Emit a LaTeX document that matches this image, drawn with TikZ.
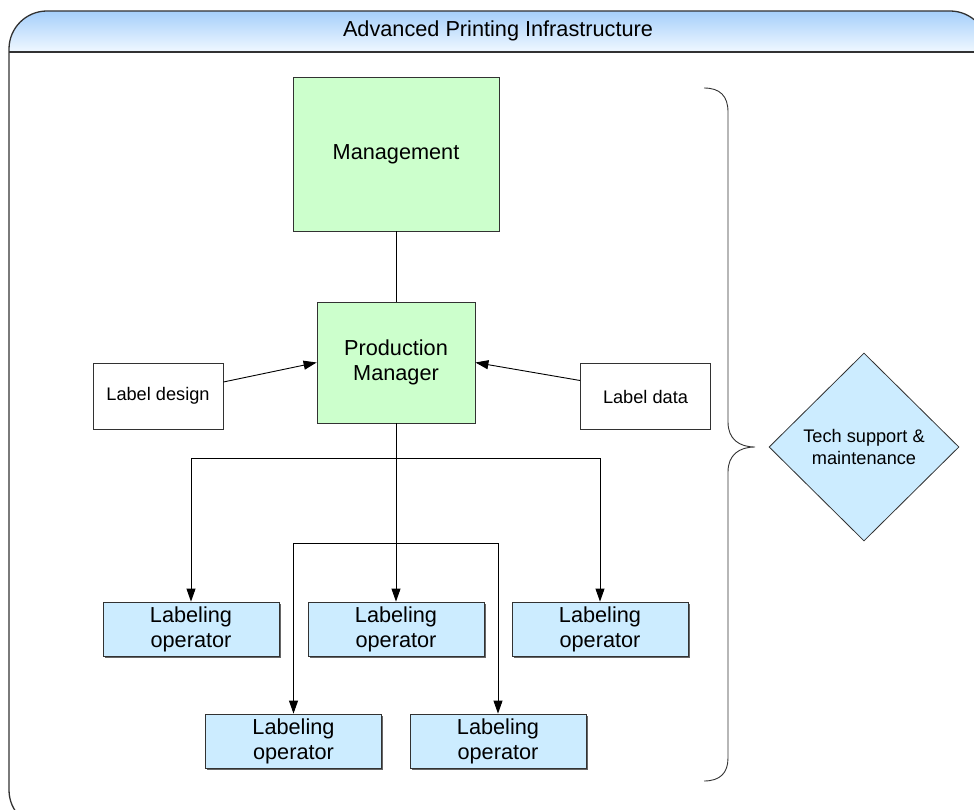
\documentclass[tikz,border=0pt]{standalone}
\usepackage{fontspec}
\setmainfont{Liberation Sans}
\usetikzlibrary{arrows.meta,shapes.geometric,shadows}

\definecolor{mgmtgreen}{RGB}{204,255,204}
\definecolor{opblue}{RGB}{204,236,255}
\definecolor{headtop}{RGB}{145,196,250}
\definecolor{headbot}{RGB}{240,248,255}
\definecolor{edge}{RGB}{50,50,50}

\newcommand{\bigtext}{\fontsize{21.7}{25}\selectfont}
\newcommand{\smalltext}{\fontsize{18.2}{22}\selectfont}

\tikzset{
  box/.style={draw=edge, line width=0.8pt, inner sep=0pt, align=center},
  mgmtbox/.style={box, fill=mgmtgreen, font=\bigtext},
  inputbox/.style={box, fill=white, font=\smalltext,
    minimum width=130pt, minimum height=66pt},
  opbox/.style={box, fill=opblue, font=\bigtext,
    minimum width=176pt, minimum height=54pt,
    drop shadow={shadow xshift=1.6pt, shadow yshift=-1.6pt,
                 fill=black!60, opacity=1}},
  supportbox/.style={diamond, draw=edge, line width=0.8pt, fill=opblue,
    font=\smalltext, align=center, inner sep=0pt,
    minimum width=190pt, minimum height=188pt},
  arr/.style={draw=black, line width=0.9pt,
    -{Triangle[length=13pt,width=9pt]}},
  link/.style={draw=black, line width=0.9pt},
}

\begin{document}
\begin{tikzpicture}[x=1pt, y=-1pt]
  \useasboundingbox (0,0) rectangle (974,810);

  % outer frame with gradient title band
  \begin{scope}
    \clip[rounded corners=38pt] (9,11) rectangle (988,828);
    \shade[top color=headtop, bottom color=headbot] (0,0) rectangle (1000,52);
  \end{scope}
  \draw[edge, line width=1.3pt, rounded corners=38pt] (9,11) rectangle (988,828);
  \draw[edge, line width=1.5pt] (9,52) -- (988,52);
  \node[font=\bigtext] (title) at (498,31) {Advanced Printing Infrastructure};

  % management chain
  \node[mgmtbox, minimum width=206pt, minimum height=154pt] (mgmt) at (396,154) {Management};
  \node[mgmtbox, minimum width=158pt, minimum height=121pt] (pm) at (396,362.5) {Production\\Manager};

  % inputs
  \node[inputbox] (design) at (158,396) {Label design};
  \node[inputbox] (data) at (645.5,396.5) {Label data};

  % operators
  \node[opbox] (op1) at (191,629) {Labeling\\operator};
  \node[opbox] (op2) at (396,629) {Labeling\\operator};
  \node[opbox] (op3) at (600,629) {Labeling\\operator};
  \node[opbox] (op4) at (293.5,741) {Labeling\\operator};
  \node[opbox] (op5) at (498,741) {Labeling\\operator};

  % support
  \node[supportbox] (support) at (864,447) {Tech support \&\\maintenance};

  % connectors
  \draw[link] (mgmt.south) -- (pm.north);
  \draw[arr] ([yshift=14pt]design.east) -- (pm.west);
  \draw[arr] ([yshift=16pt]data.west) -- (pm.east);
  \draw[arr] (pm.south) -- (op2.north);
  \draw[arr] (pm.south) -- ++(0,35) -| (op1.north);
  \draw[arr] (pm.south) -- ++(0,35) -| (op3.north);
  \draw[arr] (pm.south) -- ++(0,120) -| (op4.north);
  \draw[arr] (pm.south) -- ++(0,120) -| (op5.north);

  % curly brace grouping the organisation
  \draw[edge, line width=0.9pt]
    (704,88) .. controls (720,88) and (728,96) .. (728,112)
    -- (728,422)
    .. controls (728,439) and (739,447) .. (755,447)
    .. controls (739,447) and (728,455) .. (728,472)
    -- (728,758)
    .. controls (728,773) and (720,781) .. (704,781);
\end{tikzpicture}
\end{document}
